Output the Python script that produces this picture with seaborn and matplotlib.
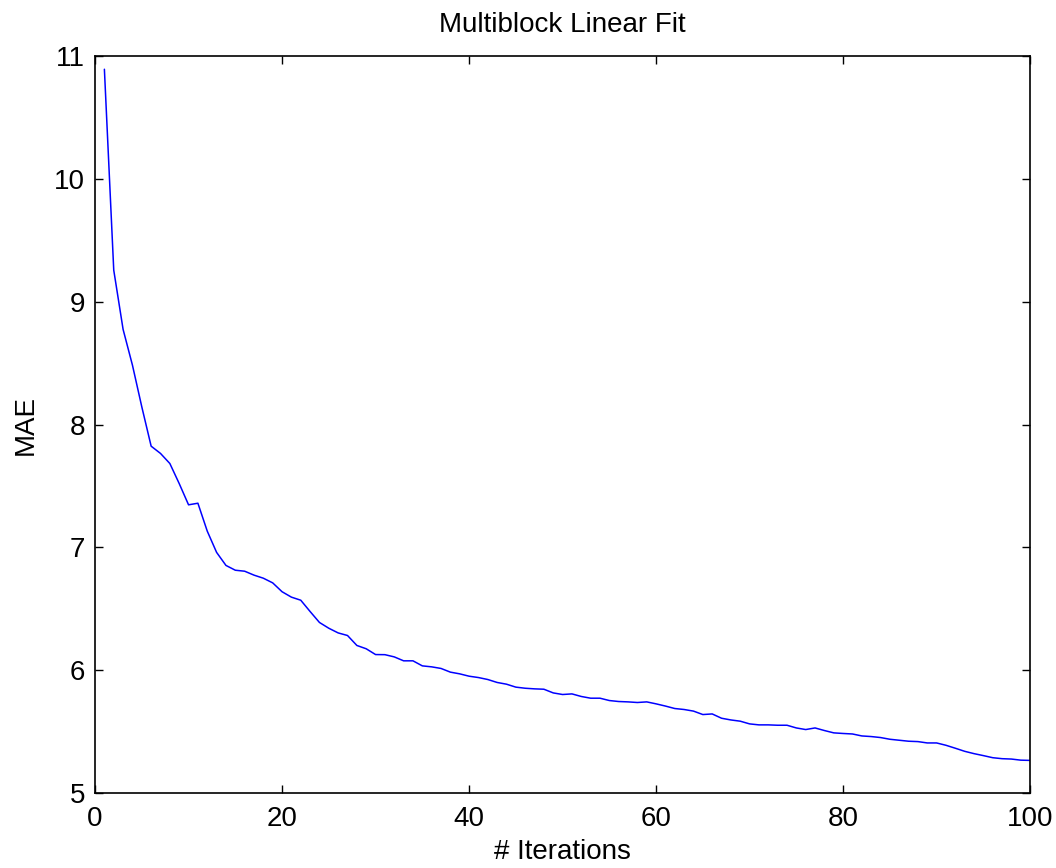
import matplotlib
matplotlib.use("Agg")
import matplotlib.pyplot as plt
import seaborn as sns
import pandas as pd

iterations = list(range(1, 101))
mae = [
    10.89, 9.256, 8.774, 8.483, 8.144, 7.824, 7.765, 7.683, 7.52, 7.347,
    7.36, 7.133, 6.96, 6.854, 6.815, 6.807, 6.775, 6.75, 6.712, 6.64,
    6.596, 6.571, 6.479, 6.39, 6.343, 6.305, 6.284, 6.203, 6.176, 6.129,
    6.128, 6.11, 6.078, 6.078, 6.037, 6.029, 6.016, 5.986, 5.972, 5.953,
    5.942, 5.926, 5.902, 5.888, 5.864, 5.855, 5.85, 5.847, 5.817, 5.804,
    5.809, 5.788, 5.774, 5.774, 5.755, 5.747, 5.744, 5.739, 5.744, 5.728,
    5.71, 5.69, 5.682, 5.669, 5.641, 5.646, 5.611, 5.597, 5.587, 5.565,
    5.557, 5.557, 5.554, 5.554, 5.532, 5.519, 5.532, 5.511, 5.492, 5.487,
    5.483, 5.467, 5.462, 5.454, 5.44, 5.432, 5.424, 5.421, 5.41, 5.41,
    5.391, 5.367, 5.342, 5.323, 5.307, 5.29, 5.282, 5.279, 5.27, 5.268,
]
x_ticks = [0, 20, 40, 60, 80, 100]
y_ticks = [5, 6, 7, 8, 9, 10, 11]
title = "Multiblock Linear Fit"
x_label = "# Iterations"
y_label = "MAE"

sns.set_theme(style="ticks")
plt.rcParams['font.family'] = ['Liberation Sans', 'DejaVu Sans']
plt.rcParams['text.color'] = 'black'
plt.rcParams['axes.labelcolor'] = 'black'

df = pd.DataFrame({"iter": iterations, "mae": mae})

fs = 20
fig = plt.figure(figsize=(10.56, 8.68), dpi=100)
ax = fig.add_axes([0.09, 0.086, 0.8855, 0.8498])
sns.lineplot(data=df, x="iter", y="mae", color=(0, 0, 1), linewidth=1.1, ax=ax)

ax.set_xlim(0, 100)
ax.set_ylim(5, 11)
ax.set_xticks(x_ticks)
ax.set_yticks(y_ticks)
ax.set_xticklabels([str(v) for v in x_ticks])
ax.set_yticklabels([str(v) for v in y_ticks])
ax.tick_params(direction="in", top=True, right=True, length=6, width=1.0,
               labelsize=fs, colors="black")
ax.tick_params(axis="x", pad=9)
ax.tick_params(axis="y", pad=7)
for s in ax.spines.values():
    s.set_visible(True)
    s.set_linewidth(1.2)
    s.set_color("black")

ax.set_title(title, fontsize=fs, pad=17, color="black")
ax.set_xlabel(x_label, fontsize=fs, labelpad=5, color="black")
ax.set_ylabel(y_label, fontsize=fs, labelpad=11, color="black")

fig.savefig("out.png", dpi=100, facecolor="white")
